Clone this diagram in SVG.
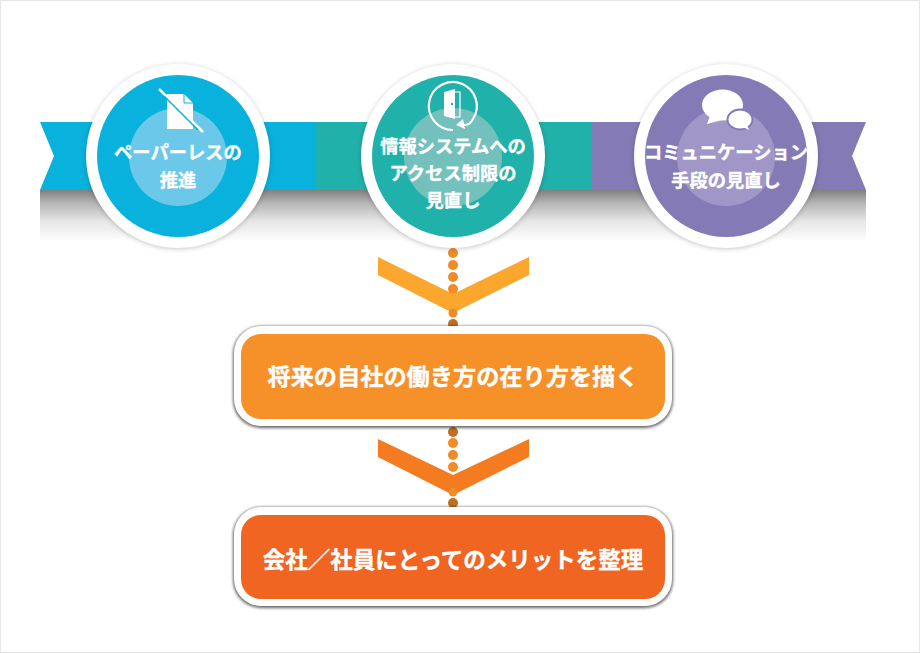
<svg xmlns="http://www.w3.org/2000/svg" width="920" height="653" viewBox="0 0 920 653">
<defs>
<linearGradient id="ribbonShadow" x1="0" y1="0" x2="0" y2="1"><stop offset="0" stop-color="#808080"/><stop offset="0.25" stop-color="#b5b5b5"/><stop offset="0.6" stop-color="#e6e6e6"/><stop offset="1" stop-color="#ffffff"/></linearGradient>
<filter id="soft" x="-15%" y="-15%" width="130%" height="130%"><feGaussianBlur stdDeviation="2.5"/></filter>
<filter id="softBox" x="-5%" y="-15%" width="110%" height="130%"><feGaussianBlur stdDeviation="1.5"/></filter>
<clipPath id="ribbonClip"><path d="M40 122H866L852 156L866 190H40L54 156Z"/></clipPath>
</defs>
<style>
.label{font-family:"Noto Sans CJK JP","Liberation Sans",sans-serif;font-weight:700;fill:#fff;stroke:#fff;stroke-width:.35px;text-anchor:middle}
.top{font-size:18.300px}
.ring{fill:#fff}
.halo{fill:#000;opacity:.22;filter:url(#soft)}
.boxhalo{fill:#000;opacity:.6;filter:url(#softBox)}
.dot{fill:#f08c28}
.dotdark{fill:#bf6f24}
</style>
<rect width="920" height="653" fill="#fff"/>
<rect x="0.5" y="0.5" width="919" height="652" fill="none" stroke="#e6e6e6"/>
<g id="ribbon">
<rect x="40" y="190" width="826" height="52" fill="url(#ribbonShadow)"/>
<g clip-path="url(#ribbonClip)">
<rect x="40" y="122" width="276" height="68" fill="#09b2dc"/>
<rect x="316" y="122" width="276" height="68" fill="#20b1aa"/>
<rect x="592" y="122" width="274" height="68" fill="#847bb6"/>
</g>
</g>
<g id="connectors">
<path d="M378 257L453 294L529 257V275L453 313L378 275Z" fill="#fba62c"/>
<path d="M378 439L453 475L529 439V457L453 495L378 457Z" fill="#f47b20"/>
<circle class="dot" cx="453" cy="253" r="5"/><circle class="dot" cx="453" cy="265" r="5"/><circle class="dot" cx="453" cy="277" r="5"/><circle class="dot" cx="453" cy="289" r="5"/>
<circle class="dot" cx="453" cy="313" r="4.500"/><circle class="dotdark" cx="453" cy="324" r="5"/>
<circle class="dotdark" cx="453" cy="432" r="5"/><circle class="dot" cx="453" cy="443" r="5"/><circle class="dot" cx="453" cy="455" r="5"/><circle class="dot" cx="453" cy="467" r="5"/>
<circle class="dot" cx="453" cy="492" r="4.500"/><circle class="dotdark" cx="453" cy="503" r="5"/>
</g>
<g id="node-paperless">
<circle class="halo" cx="178" cy="157" r="92"/><circle class="ring" cx="178" cy="156" r="92"/>
<circle cx="178" cy="156" r="81" fill="#09b2dc"/><circle cx="178" cy="157" r="49" fill="#6cc8e8"/>
<path d="M167 94H184L193 103V129H167Z" fill="#fff"/><path d="M184 94V103H193" fill="none" stroke="#09b2dc" stroke-width="1"/>
<path d="M159 89L203 132" stroke="#fff" stroke-width="2.500"/><path d="M164 96L198 130" stroke="#09b2dc" stroke-width="1.500"/>
<text class="label top" x="178" y="159">ペーパーレスの</text><text class="label top" x="178" y="187">推進</text>
</g>
<g id="node-access">
<circle class="halo" cx="453" cy="157" r="92"/><circle class="ring" cx="453" cy="156" r="92"/>
<circle cx="453" cy="156" r="81" fill="#20b1aa"/><circle cx="453" cy="157" r="49" fill="#74c0bc"/>
<path d="M473 119A24 24 0 1 0 453 130" fill="none" stroke="#fff" stroke-width="2.200"/>
<path d="M444 92L455 89V119L444 116Z" fill="#fff"/><path d="M455 92H460V117H455" fill="none" stroke="#fff" stroke-width="1.200"/>
<circle cx="452" cy="104" r="1.200" fill="#20b1aa"/>
<path d="M473 119Q470 126 461 125" fill="none" stroke="#fff" stroke-width="2"/><path d="M456 125L463 119L465 129Z" fill="#fff"/>
<text class="label top" x="453" y="153">情報システムへの</text><text class="label top" x="453" y="180">アクセス制限の</text><text class="label top" x="453" y="207">見直し</text>
</g>
<g id="node-communication">
<circle class="halo" cx="726" cy="157" r="92"/><circle class="ring" cx="726" cy="156" r="92"/>
<circle cx="726" cy="156" r="81" fill="#847bb6"/><circle cx="726" cy="157" r="49" fill="#a097c8"/>
<ellipse cx="722.500" cy="105" rx="20.500" ry="15.500" fill="#fff"/><path d="M710 116L707 124L722 120Z" fill="#fff"/>
<ellipse cx="740" cy="119.500" rx="12.500" ry="10" fill="#fff" stroke="#847bb6" stroke-width="2"/><path d="M743 127L749 130L747 125Z" fill="#fff"/>
<text class="label top" x="726" y="159">コミュニケーション</text><text class="label top" x="726" y="187">手段の見直し</text>
</g>
<g id="node-future">
<rect class="boxhalo" x="233" y="326" width="440" height="102" rx="28"/>
<rect class="ring" x="234" y="326" width="438" height="100" rx="27"/>
<rect x="241" y="334" width="424" height="85" rx="20" fill="#f69029"/>
<text class="label" font-size="23.200" x="453" y="385">将来の自社の働き方の在り方を描く</text>
</g>
<g id="node-merit">
<rect class="boxhalo" x="233" y="507" width="440" height="101" rx="28"/>
<rect class="ring" x="234" y="507" width="438" height="99" rx="27"/>
<rect x="241" y="515" width="424" height="84" rx="20" fill="#f06522"/>
<text class="label" font-size="22.500" x="453" y="568">会社／社員にとってのメリットを整理</text>
</g>
</svg>
